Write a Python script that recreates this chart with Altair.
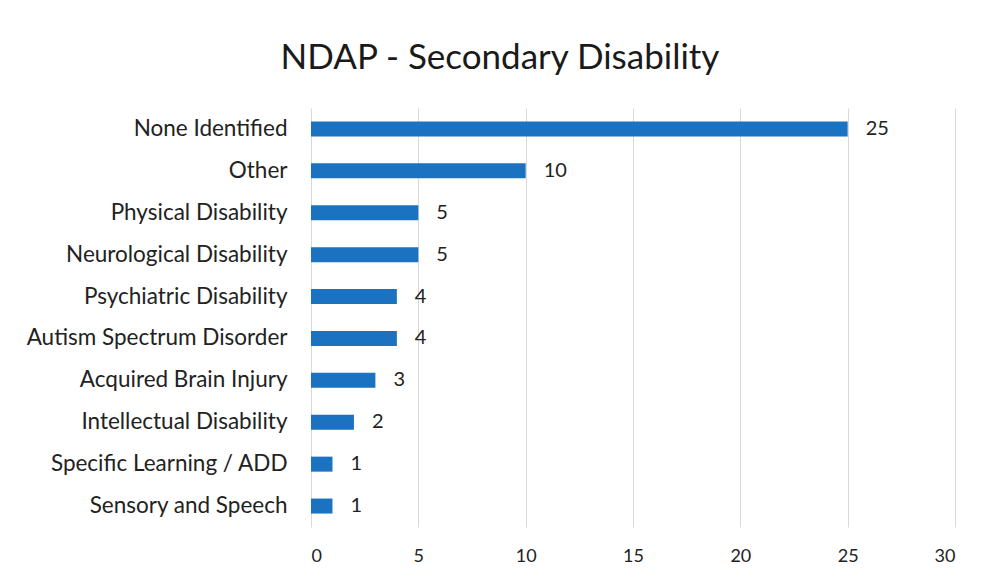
import altair as alt
import pandas as pd

categories = [
    "None Identified",
    "Other",
    "Physical Disability",
    "Neurological Disability",
    "Psychiatric Disability",
    "Autism Spectrum Disorder",
    "Acquired Brain Injury",
    "Intellectual Disability",
    "Specific Learning / ADD",
    "Sensory and Speech",
]
values = [25, 10, 5, 5, 4, 4, 3, 2, 1, 1]
x_ticks = [0, 5, 10, 15, 20, 25, 30]

df = pd.DataFrame({"category": categories, "value": values})

FONT = "Lato"

y_enc = alt.Y(
    "category:N",
    sort=categories,
    title=None,
    axis=alt.Axis(
        labelFontSize=22.5,
        labelFont=FONT,
        labelColor="#222222",
        labelPadding=24,
        labelLimit=0,
        ticks=False,
        domain=False,
        grid=False,
    ),
    scale=alt.Scale(paddingInner=0.0, paddingOuter=0.0),
)
x_enc = alt.X(
    "value:Q",
    title=None,
    scale=alt.Scale(domain=[0, 30], nice=False),
    axis=alt.Axis(
        values=x_ticks,
        labelFontSize=18,
        labelFont=FONT,
        labelColor="#222222",
        labelPadding=20,
        ticks=False,
        domain=False,
        grid=True,
        gridColor="#d9d9d9",
        gridWidth=1,
    ),
)

bars = alt.Chart(df).mark_bar(color="#1a72c0", size=15).encode(x=x_enc, y=y_enc)
labels = alt.Chart(df).mark_text(
    align="left", baseline="middle", dx=18, fontSize=20, font=FONT, color="#222222"
).encode(x="value:Q", y=alt.Y("category:N", sort=categories), text="value:Q")

chart = (
    alt.layer(bars, labels)
    .properties(
        width=644,
        height=419,
        padding={"left": 303, "top": 100, "right": 25, "bottom": 40},
        autosize=alt.AutoSizeParams(type="none"),
        background="#ffffff",
        title=alt.TitleParams(
            "NDAP - Secondary Disability",
            fontSize=35,
            font=FONT,
            fontWeight="normal",
            color="#1a1a1a",
            anchor="middle",
            dx=-133,
            offset=32,
        ),
    )
    .configure_view(stroke=None)
)

chart.save("out.html", embed_options={"renderer": "svg", "actions": False})
